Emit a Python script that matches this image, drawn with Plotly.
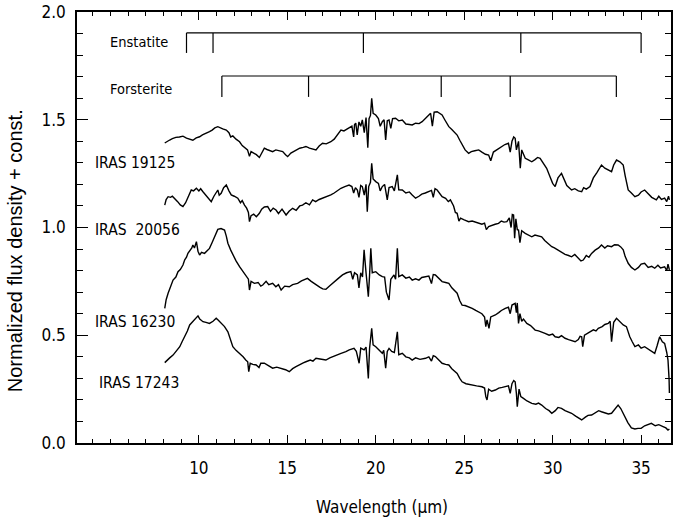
import plotly.graph_objects as go

# ---------------- data ----------------
w_19125 = [8.07, 8.2, 8.35, 8.5, 8.7, 8.9, 9.1, 9.3, 9.5, 9.66, 9.85, 10.04, 10.2, 10.4, 10.6, 10.75, 10.9, 11.07,
           11.2, 11.35, 11.55, 11.7, 11.8, 11.92, 12.1, 12.3, 12.45, 12.6, 12.75, 12.86, 12.95, 13.1, 13.25, 13.42,
           13.55, 13.7, 13.85, 14.0, 14.17, 14.35, 14.55, 14.74, 14.9, 15.02, 15.2, 15.35, 15.49, 15.7, 15.9, 16.05,
           16.25, 16.45, 16.62, 16.8, 16.99, 17.2, 17.46, 17.65, 17.85, 18.03, 18.2, 18.35, 18.49, 18.65, 18.75, 18.8,
           18.87, 18.95, 19.05, 19.15, 19.24, 19.35, 19.45, 19.55, 19.62, 19.7, 19.77, 19.85, 20.0, 20.15, 20.25,
           20.37, 20.47, 20.56, 20.65, 20.75, 20.85, 20.95, 21.12, 21.3, 21.5, 21.7, 21.9, 22.06, 22.25, 22.45, 22.62,
           22.8, 22.95, 23.1, 23.2, 23.3, 23.47, 23.6, 23.75, 23.9, 24.0, 24.13, 24.3, 24.45, 24.6, 24.75, 24.88,
           25.05, 25.25, 25.4, 25.6, 25.82, 26.0, 26.2, 26.38, 26.5, 26.65, 26.8, 26.94, 27.1, 27.3, 27.5, 27.6, 27.7,
           27.8, 27.88, 27.95, 28.07, 28.17, 28.25, 28.35, 28.45, 28.6, 28.82, 29.0, 29.15, 29.29, 29.45, 29.66,
           29.85, 30.0, 30.14, 30.3, 30.5, 30.65, 30.8, 31.07, 31.25, 31.45, 31.64, 31.75, 31.9, 32.11, 32.3, 32.5,
           32.76, 32.95, 33.15, 33.33, 33.45, 33.61, 33.8, 33.99, 34.1, 34.2, 34.27, 34.45, 34.65, 34.85, 35.0, 35.2,
           35.4, 35.6, 35.86, 36.0, 36.15, 36.33, 36.45, 36.55, 36.6]
f_19125 = [1.392, 1.400, 1.406, 1.412, 1.418, 1.420, 1.424, 1.415, 1.410, 1.405, 1.416, 1.421, 1.430, 1.436, 1.445,
           1.452, 1.462, 1.468, 1.462, 1.458, 1.452, 1.440, 1.420, 1.425, 1.410, 1.398, 1.380, 1.372, 1.360, 1.330,
           1.352, 1.345, 1.338, 1.325, 1.345, 1.368, 1.362, 1.358, 1.352, 1.360, 1.356, 1.352, 1.338, 1.329, 1.345,
           1.352, 1.360, 1.368, 1.372, 1.376, 1.368, 1.365, 1.360, 1.378, 1.391, 1.388, 1.398, 1.410, 1.432, 1.452,
           1.448, 1.455, 1.460, 1.470, 1.420, 1.478, 1.484, 1.430, 1.490, 1.470, 1.499, 1.440, 1.510, 1.370, 1.505,
           1.520, 1.600, 1.530, 1.522, 1.505, 1.470, 1.491, 1.500, 1.406, 1.495, 1.499, 1.460, 1.505, 1.507, 1.495,
           1.499, 1.480, 1.478, 1.476, 1.484, 1.482, 1.491, 1.505, 1.520, 1.530, 1.470, 1.535, 1.537, 1.530, 1.522,
           1.500, 1.485, 1.468, 1.455, 1.440, 1.429, 1.405, 1.383, 1.360, 1.344, 1.352, 1.356, 1.360, 1.350, 1.340,
           1.336, 1.310, 1.350, 1.358, 1.367, 1.375, 1.385, 1.391, 1.350, 1.400, 1.420, 1.414, 1.360, 1.400, 1.275,
           1.360, 1.344, 1.321, 1.315, 1.305, 1.315, 1.325, 1.321, 1.300, 1.275, 1.235, 1.205, 1.190, 1.230, 1.251,
           1.220, 1.195, 1.174, 1.180, 1.170, 1.166, 1.185, 1.178, 1.190, 1.230, 1.255, 1.290, 1.275, 1.265, 1.259,
           1.290, 1.313, 1.305, 1.290, 1.240, 1.190, 1.174, 1.160, 1.143, 1.150, 1.165, 1.174, 1.155, 1.140, 1.128,
           1.145, 1.130, 1.136, 1.120, 1.145, 1.128]

w_20056 = [8.07, 8.15, 8.26, 8.4, 8.5, 8.63, 8.8, 8.95, 9.1, 9.25, 9.4, 9.57, 9.7, 9.86, 10.0, 10.1, 10.23, 10.4,
           10.55, 10.7, 10.85, 10.95, 11.07, 11.15, 11.26, 11.4, 11.55, 11.7, 11.83, 12.0, 12.2, 12.35, 12.45, 12.58,
           12.7, 12.8, 12.86, 12.95, 13.1, 13.25, 13.42, 13.55, 13.7, 13.89, 14.05, 14.2, 14.36, 14.5, 14.7, 14.93,
           15.1, 15.3, 15.5, 15.7, 15.86, 16.05, 16.25, 16.43, 16.6, 16.8, 16.99, 17.2, 17.46, 17.65, 17.85, 18.03,
           18.25, 18.49, 18.65, 18.75, 18.85, 18.96, 19.05, 19.15, 19.24, 19.35, 19.45, 19.52, 19.6, 19.7, 19.77,
           19.85, 20.0, 20.15, 20.25, 20.37, 20.5, 20.65, 20.75, 20.93, 21.05, 21.22, 21.3, 21.5, 21.7, 21.9, 22.06,
           22.25, 22.44, 22.6, 22.8, 23.0, 23.15, 23.25, 23.35, 23.47, 23.6, 23.75, 23.95, 24.1, 24.22, 24.4, 24.5,
           24.6, 24.7, 24.79, 25.0, 25.25, 25.45, 25.6, 25.82, 26.0, 26.15, 26.25, 26.38, 26.55, 26.75, 26.94, 27.1,
           27.25, 27.41, 27.55, 27.65, 27.72, 27.79, 27.85, 27.92, 28.0, 28.07, 28.15, 28.25, 28.45, 28.6, 28.82,
           29.0, 29.2, 29.38, 29.55, 29.75, 29.95, 30.1, 30.3, 30.5, 30.7, 30.9, 31.07, 31.25, 31.45, 31.6, 31.73,
           31.9, 32.05, 32.2, 32.4, 32.6, 32.76, 32.95, 33.1, 33.33, 33.5, 33.7, 33.85, 33.99, 34.1, 34.27, 34.45,
           34.65, 34.85, 35.0, 35.2, 35.4, 35.6, 35.77, 35.95, 36.1, 36.33, 36.45, 36.52, 36.6]
f_20056 = [1.104, 1.130, 1.143, 1.140, 1.145, 1.136, 1.120, 1.105, 1.097, 1.115, 1.140, 1.174, 1.170, 1.182, 1.170,
           1.180, 1.166, 1.150, 1.135, 1.120, 1.145, 1.160, 1.174, 1.150, 1.159, 1.185, 1.197, 1.170, 1.151, 1.145,
           1.136, 1.115, 1.125, 1.104, 1.090, 1.070, 1.027, 1.055, 1.062, 1.050, 1.066, 1.085, 1.095, 1.097, 1.075,
           1.090, 1.081, 1.065, 1.085, 1.058, 1.075, 1.089, 1.080, 1.100, 1.104, 1.115, 1.105, 1.128, 1.120, 1.130,
           1.136, 1.140, 1.151, 1.160, 1.172, 1.182, 1.190, 1.197, 1.190, 1.160, 1.185, 1.174, 1.140, 1.195, 1.190,
           1.150, 1.200, 1.073, 1.190, 1.210, 1.298, 1.225, 1.213, 1.205, 1.170, 1.190, 1.200, 1.128, 1.185, 1.190,
           1.170, 1.244, 1.175, 1.174, 1.160, 1.165, 1.151, 1.136, 1.145, 1.155, 1.160, 1.166, 1.172, 1.140, 1.180,
           1.174, 1.160, 1.143, 1.135, 1.120, 1.128, 1.100, 1.070, 1.066, 1.030, 1.043, 1.035, 1.027, 1.030, 1.025,
           1.019, 1.015, 1.020, 0.990, 1.004, 1.010, 1.015, 1.019, 1.030, 1.025, 1.027, 1.045, 1.000, 1.060, 1.058,
           0.950, 1.040, 0.990, 0.988, 0.930, 0.985, 0.973, 0.965, 0.957, 0.965, 0.960, 0.957, 0.940, 0.925, 0.911,
           0.905, 0.895, 0.888, 0.875, 0.870, 0.864, 0.875, 0.855, 0.845, 0.849, 0.870, 0.862, 0.880, 0.895, 0.905,
           0.919, 0.905, 0.915, 0.911, 0.920, 0.919, 0.910, 0.896, 0.865, 0.834, 0.815, 0.803, 0.815, 0.830, 0.834,
           0.815, 0.820, 0.811, 0.825, 0.812, 0.818, 0.800, 0.830, 0.803]

w_16230 = [8.07, 8.15, 8.26, 8.4, 8.54, 8.7, 8.82, 8.95, 9.1, 9.2, 9.3, 9.38, 9.5, 9.6, 9.66, 9.75, 9.86, 9.95,
           10.04, 10.15, 10.32, 10.45, 10.6, 10.75, 10.89, 11.0, 11.07, 11.25, 11.45, 11.55, 11.64, 11.8, 11.92,
           12.1, 12.3, 12.5, 12.67, 12.8, 12.86, 12.95, 13.14, 13.35, 13.5, 13.61, 13.8, 13.95, 14.17, 14.35, 14.5,
           14.65, 14.85, 15.11, 15.3, 15.58, 15.8, 16.0, 16.14, 16.35, 16.62, 16.85, 17.0, 17.18, 17.4, 17.65, 17.9,
           18.12, 18.35, 18.59, 18.7, 18.8, 18.96, 19.05, 19.15, 19.25, 19.34, 19.45, 19.58, 19.65, 19.72, 19.8,
           20.0, 20.2, 20.37, 20.5, 20.6, 20.75, 20.85, 21.03, 21.12, 21.22, 21.3, 21.5, 21.7, 21.9, 22.06, 22.25,
           22.44, 22.6, 22.81, 23.0, 23.15, 23.25, 23.37, 23.55, 23.75, 23.95, 24.13, 24.3, 24.45, 24.6, 24.75,
           24.88, 25.05, 25.25, 25.45, 25.65, 25.82, 26.0, 26.15, 26.22, 26.29, 26.4, 26.5, 26.76, 26.95, 27.1,
           27.32, 27.5, 27.6, 27.7, 27.88, 27.95, 28.0, 28.07, 28.15, 28.25, 28.35, 28.54, 28.75, 29.01, 29.2, 29.4,
           29.57, 29.8, 30.0, 30.14, 30.35, 30.5, 30.7, 30.9, 31.1, 31.27, 31.45, 31.55, 31.64, 31.7, 31.8, 32.0,
           32.11, 32.3, 32.45, 32.58, 32.8, 32.95, 33.14, 33.25, 33.33, 33.45, 33.61, 33.85, 33.99, 34.17, 34.36,
           34.5, 34.65, 34.85, 35.0, 35.2, 35.4, 35.6, 35.77, 35.9, 36.05, 36.2, 36.33, 36.45, 36.52, 36.58, 36.6]
f_16230 = [0.625, 0.665, 0.695, 0.725, 0.756, 0.770, 0.795, 0.805, 0.826, 0.850, 0.862, 0.880, 0.895, 0.905, 0.919,
           0.905, 0.934, 0.890, 0.872, 0.885, 0.880, 0.890, 0.903, 0.930, 0.957, 0.985, 0.991, 0.995, 0.988, 0.960,
           0.927, 0.895, 0.872, 0.845, 0.818, 0.795, 0.772, 0.760, 0.710, 0.750, 0.741, 0.745, 0.728, 0.733, 0.750,
           0.735, 0.741, 0.725, 0.735, 0.710, 0.728, 0.725, 0.735, 0.741, 0.752, 0.760, 0.764, 0.750, 0.733, 0.722,
           0.715, 0.713, 0.730, 0.749, 0.765, 0.780, 0.790, 0.795, 0.760, 0.790, 0.780, 0.720, 0.790, 0.770, 0.896,
           0.790, 0.679, 0.780, 0.903, 0.790, 0.795, 0.780, 0.772, 0.770, 0.700, 0.664, 0.760, 0.780, 0.760, 0.903,
           0.772, 0.780, 0.765, 0.770, 0.756, 0.762, 0.756, 0.768, 0.772, 0.775, 0.740, 0.782, 0.780, 0.765, 0.749,
           0.745, 0.741, 0.720, 0.705, 0.695, 0.660, 0.640, 0.638, 0.633, 0.625, 0.615, 0.609, 0.600, 0.585, 0.540,
           0.571, 0.532, 0.585, 0.594, 0.605, 0.615, 0.625, 0.630, 0.600, 0.640, 0.648, 0.605, 0.650, 0.555, 0.600,
           0.565, 0.575, 0.555, 0.545, 0.524, 0.520, 0.512, 0.509, 0.500, 0.505, 0.493, 0.490, 0.498, 0.486, 0.480,
           0.475, 0.470, 0.480, 0.495, 0.493, 0.447, 0.500, 0.510, 0.516, 0.525, 0.520, 0.532, 0.540, 0.550, 0.555,
           0.565, 0.470, 0.560, 0.579, 0.560, 0.548, 0.540, 0.493, 0.470, 0.447, 0.455, 0.440, 0.447, 0.435, 0.425,
           0.416, 0.450, 0.493, 0.470, 0.462, 0.420, 0.385, 0.300, 0.232]

w_17243 = [8.07, 8.2, 8.35, 8.54, 8.7, 8.92, 9.05, 9.2, 9.35, 9.48, 9.65, 9.75, 9.86, 9.95, 10.05, 10.23, 10.4, 10.6,
           10.8, 10.98, 11.1, 11.26, 11.45, 11.64, 11.8, 11.92, 12.1, 12.3, 12.5, 12.65, 12.76, 12.82, 12.9, 13.05,
           13.24, 13.4, 13.5, 13.7, 13.9, 14.17, 14.4, 14.65, 14.9, 15.11, 15.3, 15.49, 15.7, 15.9, 16.05, 16.3,
           16.45, 16.62, 16.85, 17.18, 17.4, 17.6, 17.74, 18.0, 18.31, 18.5, 18.77, 18.9, 19.06, 19.15, 19.34, 19.45,
           19.58, 19.65, 19.77, 19.85, 20.0, 20.2, 20.37, 20.45, 20.56, 20.65, 20.75, 20.9, 21.05, 21.22, 21.3,
           21.5, 21.7, 21.9, 22.06, 22.25, 22.5, 22.81, 23.0, 23.15, 23.25, 23.37, 23.55, 23.75, 23.95, 24.13, 24.3,
           24.45, 24.6, 24.75, 24.88, 25.1, 25.25, 25.44, 25.7, 26.0, 26.15, 26.22, 26.29, 26.38, 26.55, 26.76,
           26.95, 27.15, 27.32, 27.5, 27.6, 27.7, 27.8, 27.88, 27.95, 28.0, 28.1, 28.2, 28.35, 28.55, 28.82, 29.05,
           29.2, 29.38, 29.6, 29.8, 29.95, 30.15, 30.3, 30.5, 30.7, 30.9, 31.07, 31.3, 31.5, 31.64, 31.85, 32.0,
           32.2, 32.4, 32.6, 32.76, 32.95, 33.15, 33.33, 33.5, 33.7, 33.85, 34.07, 34.25, 34.45, 34.65, 34.82, 35.0,
           35.2, 35.4, 35.58, 35.8, 36.0, 36.24, 36.4, 36.52, 36.6]
f_17243 = [0.373, 0.385, 0.395, 0.408, 0.425, 0.447, 0.470, 0.493, 0.520, 0.548, 0.565, 0.575, 0.586, 0.590, 0.575,
           0.563, 0.560, 0.555, 0.565, 0.579, 0.570, 0.555, 0.540, 0.516, 0.480, 0.447, 0.430, 0.416, 0.400, 0.385,
           0.377, 0.331, 0.370, 0.365, 0.362, 0.350, 0.370, 0.370, 0.360, 0.347, 0.352, 0.347, 0.340, 0.331, 0.345,
           0.354, 0.365, 0.372, 0.377, 0.385, 0.380, 0.393, 0.390, 0.385, 0.395, 0.402, 0.408, 0.415, 0.424, 0.432,
           0.439, 0.425, 0.370, 0.440, 0.432, 0.445, 0.300, 0.440, 0.532, 0.455, 0.447, 0.430, 0.416, 0.430, 0.347,
           0.425, 0.439, 0.425, 0.420, 0.516, 0.410, 0.416, 0.400, 0.395, 0.385, 0.395, 0.388, 0.393, 0.400, 0.380,
           0.405, 0.401, 0.385, 0.370, 0.365, 0.362, 0.345, 0.335, 0.323, 0.300, 0.284, 0.275, 0.272, 0.269, 0.265,
           0.261, 0.255, 0.215, 0.200, 0.250, 0.240, 0.246, 0.255, 0.258, 0.261, 0.265, 0.230, 0.275, 0.290, 0.284,
           0.230, 0.168, 0.250, 0.215, 0.207, 0.195, 0.184, 0.180, 0.185, 0.176, 0.160, 0.150, 0.138, 0.150, 0.165,
           0.161, 0.150, 0.145, 0.138, 0.125, 0.115, 0.107, 0.120, 0.128, 0.130, 0.140, 0.150, 0.145, 0.140, 0.135,
           0.138, 0.155, 0.176, 0.160, 0.122, 0.095, 0.070, 0.065, 0.068, 0.068, 0.080, 0.085, 0.091, 0.080, 0.085,
           0.076, 0.070, 0.060, 0.065]

series_names = ["IRAS 19125", "IRAS  20056", "IRAS 16230", "IRAS 17243"]
label_x = [4.0, 4.0, 4.0, 4.24]
label_y = [1.30, 0.99, 0.56, 0.28]

enstatite_bands = [9.3, 10.8, 19.3, 28.2, 35.0]
forsterite_bands = [11.3, 16.2, 23.7, 27.6, 33.6]
enstatite_level = [1.903, 1.81]     # bracket top, tick bottom
forsterite_level = [1.703, 1.606]
mineral_names = ["Enstatite", "Forsterite"]
mineral_label_x = [4.86, 4.86]
mineral_label_y = [1.861, 1.643]

x_range = [3.11, 36.69]
y_range = [0.0, 2.0]
x_ticks = [10, 15, 20, 25, 30, 35]
y_ticks = [0.0, 0.5, 1.0, 1.5, 2.0]
y_ticktext = ["0.0", "0.5", "1.0", "1.5", "2.0"]

# ---------------- figure ----------------
NARROW = "DejaVu Sans Condensed, Liberation Sans Narrow, sans-serif"
REG = "Liberation Sans, Arial, sans-serif"

fig = go.Figure()
for w, f in [(w_19125, f_19125), (w_20056, f_20056), (w_16230, f_16230), (w_17243, f_17243)]:
    fig.add_trace(go.Scatter(x=w, y=f, mode="lines", line=dict(color="black", width=1.4),
                             showlegend=False, hoverinfo="skip"))


def bracket(bands, levels):
    xs, ys = [bands[0], bands[-1]], [levels[0], levels[0]]
    for b in bands:
        xs += [None, b, b]
        ys += [None, levels[0], levels[1]]
    return xs, ys


for bands, levels in [(enstatite_bands, enstatite_level), (forsterite_bands, forsterite_level)]:
    bx, by = bracket(bands, levels)
    fig.add_trace(go.Scatter(x=bx, y=by, mode="lines", line=dict(color="black", width=1.2),
                             showlegend=False, hoverinfo="skip"))

for name, lx, ly in zip(series_names, label_x, label_y):
    fig.add_annotation(x=lx, y=ly, xref="x", yref="y", text=name.replace("  ", "&nbsp;&nbsp;"),
                       showarrow=False, xanchor="left", yanchor="middle",
                       font=dict(family=NARROW, size=15.5, color="black"))
for name, lx, ly in zip(mineral_names, mineral_label_x, mineral_label_y):
    fig.add_annotation(x=lx, y=ly, xref="x", yref="y", text=name, showarrow=False,
                       xanchor="left", yanchor="middle",
                       font=dict(family=NARROW, size=14.5, color="black"))

fig.add_annotation(x=0.513, y=-0.1485, xref="paper", yref="paper", text="Wavelength (µm)",
                   showarrow=False, xanchor="center", yanchor="middle",
                   font=dict(family=NARROW, size=17, color="black"))
fig.add_annotation(x=-0.104, y=0.4455, xref="paper", yref="paper",
                   text="Normalized flux density + const.", textangle=-90,
                   showarrow=False, xanchor="center", yanchor="middle",
                   font=dict(family=REG, size=20, color="black"))

axis_common = dict(showline=True, linecolor="black", linewidth=1.5, mirror="ticks",
                   ticks="inside", tickcolor="black", tickwidth=1.2, showgrid=False, zeroline=False,
                   tickfont=dict(family=NARROW, size=17, color="black"))
fig.update_xaxes(range=x_range, tickvals=x_ticks, ticklen=8,
                 minor=dict(dtick=1, tick0=0, ticks="inside", ticklen=4, tickcolor="black", showgrid=False),
                 ticklabelstandoff=9, **axis_common)
fig.update_yaxes(range=y_range, tickvals=y_ticks, ticktext=y_ticktext, ticklen=11,
                 minor=dict(dtick=0.1, tick0=0, ticks="inside", ticklen=6, tickcolor="black", showgrid=False),
                 ticklabelstandoff=6, **axis_common)

fig.update_layout(width=673, height=521, margin=dict(l=77, r=0, t=12, b=78),
                  paper_bgcolor="white", plot_bgcolor="white")
fig.write_html("out.html")
